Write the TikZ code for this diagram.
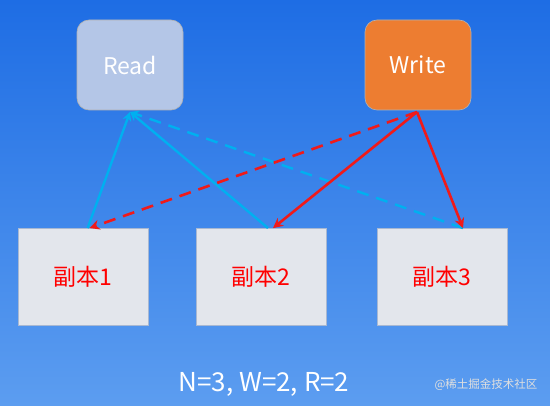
\documentclass[tikz,border=0pt]{standalone}
\usepackage{fontspec}
\setmainfont{Noto Sans CJK SC}
\usetikzlibrary{arrows.meta,calc}
\definecolor{bgtop}{HTML}{1E6DE4}
\definecolor{bgbot}{HTML}{5C9DF0}
\definecolor{readfill}{HTML}{B4C6E7}
\definecolor{writefill}{HTML}{ED7D31}
\definecolor{repfill}{HTML}{E3E6EC}
\definecolor{repline}{HTML}{A8B8D2}
\definecolor{cyanline}{HTML}{00B0F0}
\definecolor{redline}{HTML}{F01A1A}
\begin{document}
\begin{tikzpicture}[x=1pt,y=-1pt,
  topbox/.style={rounded corners=12pt, draw=gray!60, line width=0.6pt, minimum width=106pt, minimum height=90pt, text=white, font=\fontsize{23}{26}\selectfont},
  repbox/.style={draw=repline, fill=repfill, line width=0.8pt, minimum width=130pt, minimum height=97pt, text=red, font=\fontsize{23}{27}\selectfont},
  rd/.style={draw=cyanline, line width=2.4pt, -{Stealth[length=9pt,width=9pt]}},
  rddash/.style={rd, dash pattern=on 12pt off 8pt},
  wr/.style={draw=redline, line width=2.6pt, -{Stealth[length=10pt,width=10pt]}},
  wrdash/.style={wr, dash pattern=on 12pt off 8pt}]
\shade[top color=bgtop, bottom color=bgbot] (0,0) rectangle (550,406);
\useasboundingbox (0,0) rectangle (550,406);
\node[topbox, fill=readfill] (read) at (130,65) {Read};
\node[topbox, fill=writefill] (write) at (418,65) {Write};
\node[repbox] (r1) at (83,277) {副本1};
\node[repbox] (r2) at (261,277) {副本2};
\node[repbox] (r3) at (442,277) {副本3};
\coordinate (rp) at (130,112);
\coordinate (wp) at (417,112);
\draw[rd] ($(r1.north west)+(70,0)$) -- (rp);
\draw[rd] ($(r2.north)+(7,0)$) -- (rp);
\draw[rddash] ($(r3.north)+(21,0)$) -- (rp);
\draw[wrdash] (wp) -- ($(r1.north west)+(72,0)$);
\draw[wr] (wp) -- ($(r2.north)+(12,0)$);
\draw[wr] (wp) -- ($(r3.north)+(21,0)$);
\node[text=white, font=\fontsize{26}{30}\selectfont] (cfg) at (264,384) {N=3, W=2, R=2};
\node[text=white!75!gray, font=\fontsize{11.5}{13}\selectfont] (wm) at (486,385) {@稀土掘金技术社区};
\end{tikzpicture}
\end{document}
